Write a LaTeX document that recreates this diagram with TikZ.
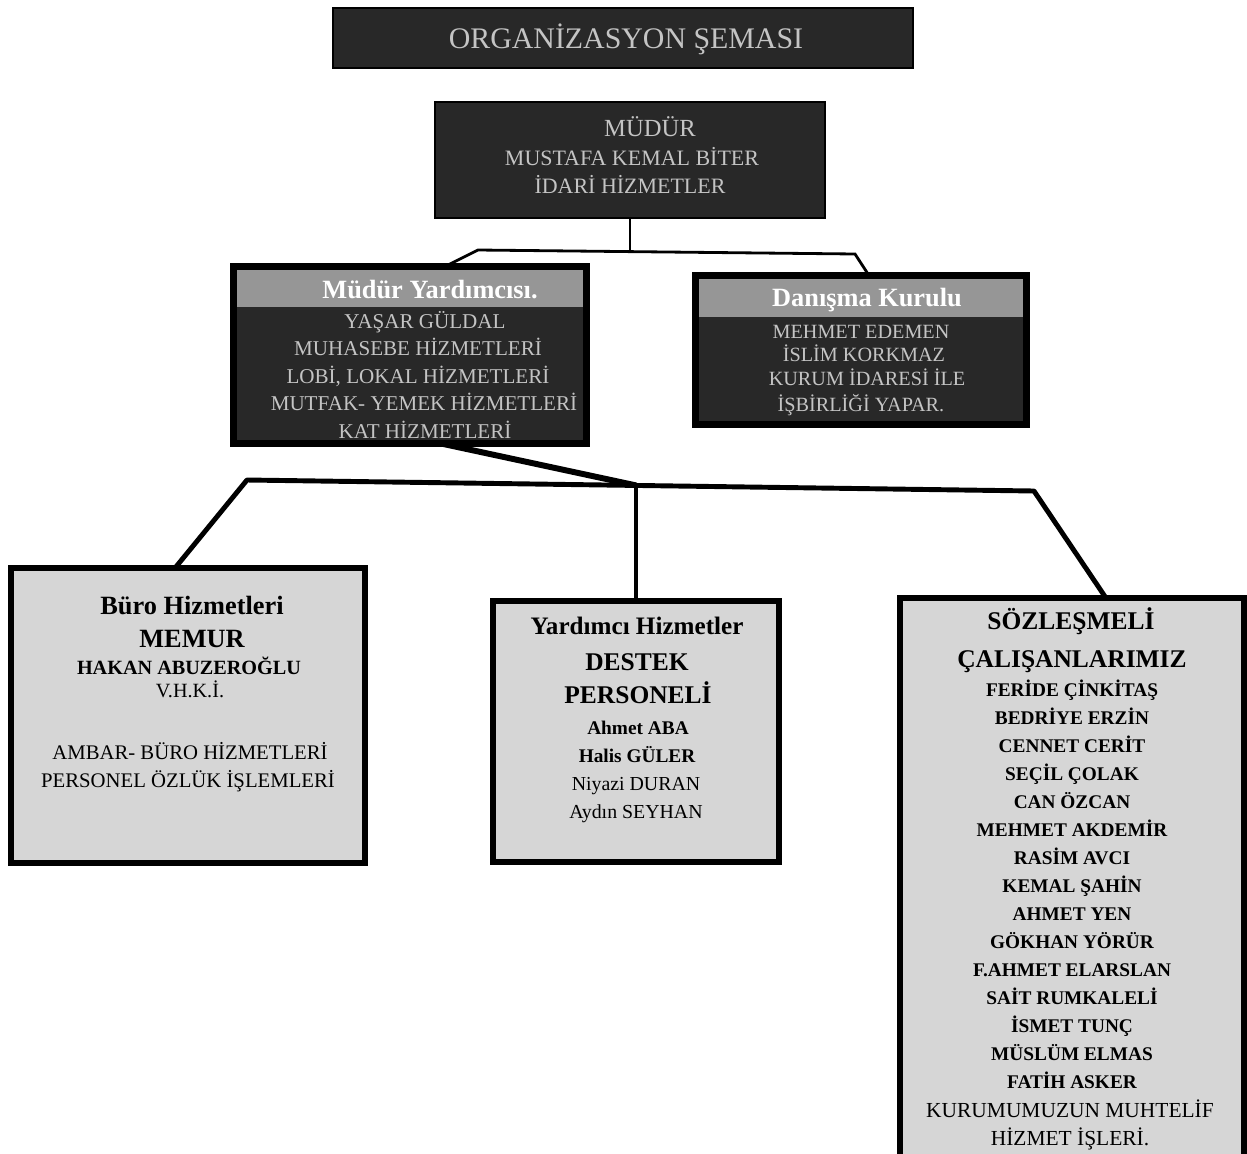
\documentclass[tikz,border=0pt]{standalone}
\usepackage{fontspec}
\setmainfont{Liberation Serif}
\usetikzlibrary{calc}

\definecolor{orgdark}{RGB}{40,40,40}
\definecolor{orgdarktext}{RGB}{196,196,196}
\definecolor{orghead}{RGB}{150,150,150}
\definecolor{orglight}{RGB}{214,214,214}

\newcommand{\orgsize}[1]{\fontsize{#1}{#1}\selectfont}

\begin{document}
\begin{tikzpicture}[
  x=0.02cm,
  y=-0.02cm,
  every node/.style={inner sep=0pt, outer sep=0pt},
  darkbox/.style={draw=black, fill=orgdark, line width=1pt},
  framedbox/.style={draw=black, fill=orgdark, line width=4pt},
  headband/.style={fill=orghead},
  lightbox/.style={draw=black, fill=orglight, line width=3.4pt},
  darktext/.style={anchor=base, text=orgdarktext},
  headtext/.style={anchor=base, text=white, font=\bfseries\orgsize{15}},
  boxtext/.style={anchor=base, text=black},
  thinlink/.style={draw=black, line width=1.6pt},
  thicklink/.style={draw=black, line width=2.8pt, line join=round}
]

  \path[use as bounding box] (0,0) rectangle (1247,1153);

  % Title
  \node[darkbox, minimum width=11.6cm, minimum height=1.2cm] (title) at (623,38) {};
  \node[darktext, font=\orgsize{17}] (titletext) at (626,48) {ORGANİZASYON ŞEMASI};

  % Müdür
  \node[darkbox, minimum width=7.8cm, minimum height=2.32cm] (mudur) at (630,160) {};
  \node[darktext, font=\orgsize{14}] (mudur1) at (650,136) {MÜDÜR};
  \node[darktext, font=\orgsize{12.5}] (mudur2) at (632,165) {MUSTAFA KEMAL BİTER};
  \node[darktext, font=\orgsize{12.5}] (mudur3) at (630,193) {İDARİ HİZMETLER};

  % Müdür Yardımcısı
  \node[framedbox, minimum width=7.08cm, minimum height=3.54cm] (yrd) at (410,355) {};
  \node[headband, minimum width=6.94cm, minimum height=0.74cm] (yrdhead) at (410,288.5) {};
  \node[headtext] (yrdtitle) at (430,298) {Müdür Yardımcısı.};
  \node[darktext, font=\orgsize{12}] (yrd1) at (425,328) {YAŞAR GÜLDAL};
  \node[darktext, font=\orgsize{12}] (yrd2) at (418,355) {MUHASEBE HİZMETLERİ};
  \node[darktext, font=\orgsize{12}] (yrd3) at (418,383) {LOBİ, LOKAL HİZMETLERİ};
  \node[darktext, font=\orgsize{12}] (yrd4) at (424,410) {MUTFAK- YEMEK HİZMETLERİ};
  \node[darktext, font=\orgsize{12}] (yrd5) at (425,438) {KAT HİZMETLERİ};

  % Danışma Kurulu
  \node[framedbox, minimum width=6.62cm, minimum height=2.98cm] (dan) at (861,350) {};
  \node[headband, minimum width=6.48cm, minimum height=0.76cm] (danhead) at (861,298) {};
  \node[headtext] (dantitle) at (867,306) {Danışma Kurulu};
  \node[darktext, font=\orgsize{11.5}] (dan1) at (861,338) {MEHMET EDEMEN};
  \node[darktext, font=\orgsize{11.5}] (dan2) at (864,361) {İSLİM KORKMAZ};
  \node[darktext, font=\orgsize{11.5}] (dan3) at (867,385) {KURUM İDARESİ İLE};
  \node[darktext, font=\orgsize{11.5}] (dan4) at (861,411) {İŞBİRLİĞİ YAPAR.};

  % Büro Hizmetleri
  \node[lightbox, minimum width=7.08cm, minimum height=5.9cm] (buro) at (188,715.5) {};
  \node[boxtext, font=\bfseries\orgsize{15}] (buro1) at (192,614) {Büro Hizmetleri};
  \node[boxtext, font=\bfseries\orgsize{15}] (buro2) at (192,647) {MEMUR};
  \node[boxtext, font=\bfseries\orgsize{11.5}] (buro3) at (189,674) {HAKAN ABUZEROĞLU};
  \node[boxtext, font=\orgsize{11.5}] (buro4) at (190,697) {V.H.K.İ.};
  \node[boxtext, font=\orgsize{11.8}] (buro5) at (190,759) {AMBAR- BÜRO HİZMETLERİ};
  \node[boxtext, font=\orgsize{11.8}] (buro6) at (188,787) {PERSONEL ÖZLÜK İŞLEMLERİ};

  % Yardımcı Hizmetler
  \node[lightbox, minimum width=5.72cm, minimum height=5.22cm] (mid) at (636,731.5) {};
  \node[boxtext, font=\bfseries\orgsize{14.3}] (mid1) at (637,634) {Yardımcı Hizmetler};
  \node[boxtext, font=\bfseries\orgsize{14.5}] (mid2) at (637,670) {DESTEK};
  \node[boxtext, font=\bfseries\orgsize{14.5}] (mid3) at (638,703) {PERSONELİ};
  \node[boxtext, font=\bfseries\orgsize{11}] (mid4) at (638,734) {Ahmet ABA};
  \node[boxtext, font=\bfseries\orgsize{11}] (mid5) at (637,762) {Halis GÜLER};
  \node[boxtext, font=\orgsize{11.3}] (mid6) at (636,790) {Niyazi DURAN};
  \node[boxtext, font=\orgsize{11.3}] (mid7) at (636,818) {Aydın SEYHAN};

  % Sözleşmeli çalışanlar
  \node[lightbox, minimum width=6.88cm, minimum height=11.48cm] (soz) at (1072,885) {};
  \node[boxtext, font=\bfseries\orgsize{14.5}] (sozhead1) at (1071,629) {SÖZLEŞMELİ};
  \node[boxtext, font=\bfseries\orgsize{14.5}] (sozhead2) at (1072,667) {ÇALIŞANLARIMIZ};
  \foreach \nm [count=\i from 0] in {FERİDE ÇİNKİTAŞ, BEDRİYE ERZİN, CENNET CERİT,
      SEÇİL ÇOLAK, CAN ÖZCAN, MEHMET AKDEMİR, RASİM AVCI, KEMAL ŞAHİN, AHMET YEN,
      GÖKHAN YÖRÜR, F.AHMET ELARSLAN, SAİT RUMKALELİ, İSMET TUNÇ, MÜSLÜM ELMAS, FATİH ASKER}
    \node[boxtext, font=\bfseries\orgsize{11}] (soz\i) at (1072,{696+28*\i}) {\nm};
  \node[boxtext, font=\orgsize{12.2}] (sozfoot1) at (1070,1117) {KURUMUMUZUN MUHTELİF};
  \node[boxtext, font=\orgsize{12.2}] (sozfoot2) at (1070,1145) {HİZMET İŞLERİ.};

  % Connectors
  \coordinate (upL) at (478,250);
  \coordinate (upR) at (855,254);
  \draw[thinlink] (mudur.south) -- (mudur.south |- upL);
  \draw[thinlink] ($(yrd.north)+(35,0)$) -- (upL) -- (upR) -- ($(dan.north)+(8,0)$);

  \coordinate (lowL) at (247,480);
  \coordinate (lowM) at (636,485.4);
  \coordinate (lowR) at (1034,491);
  \draw[thicklink] ($(buro.north)+(-13,0)$) -- (lowL) -- (lowR) -- ($(soz.north)+(34,0)$);
  \draw[thicklink, line width=3.4pt] ($(yrd.south)+(31,0)$) -- (lowM);
  \draw[thicklink] (lowM) -- (mid.north);

\end{tikzpicture}
\end{document}
